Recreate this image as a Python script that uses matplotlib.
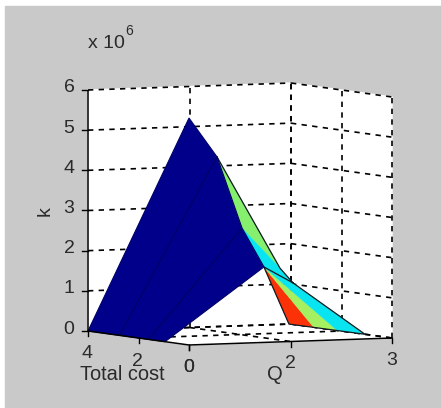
"""Surface seen from a fixed view, MATLAB style box, drawn with an own projection."""
import matplotlib
matplotlib.use("Agg")
import matplotlib.pyplot as plt
from matplotlib.patches import Polygon, Rectangle

plt.rcParams["font.family"] = ["Liberation Sans", "DejaVu Sans"]

# surface vertices (cost, Q, k in units of 1e6)
cost_b = [4.0, 2.75, 1.6, 0.95]
q_b = [0.0, 0.0, 0.0, 0.0]
k_b = [0.0, 0.0, 0.0, 0.0]

cost_p = [0.0, 1.0, 1.5, 1.0]
q_p = [0.0, 0.787, 1.343, 1.48]
k_p = [5.65, 4.55, 2.70, 1.77]

cost_o = [4.0, 3.92]
q_o = [2.837, 3.0]
k_o = [1.40, 1.03]

cost_r = [4.0, 3.11, 2.17, 1.07]
q_r = [2.97, 3.0, 3.0, 3.0]
k_r = [0.0, 0.0, 0.0, 0.0]

k_ticks = [0, 1, 2, 3, 4, 5, 6]
cost_ticks = [4, 2, 0]
q_ticks = [0, 1.5, 3]
q_labels = ["0", "2", "3"]

NAVY = "#00008a"
GREEN = "#86f06e"
LIME = "#a4f060"
CYAN = "#08e4f0"
RED = "#fb3208"


def proj(c, q, k):
    # fixed view read from the box corners
    x = 189 - 25.25 * c + 67.67 * q
    y = 345 - 3.5 * c - 2.33 * q - 40.17 * k
    return x, y


def vb(i):
    return proj(cost_b[i], q_b[i], k_b[i])


def vp(i):
    return proj(cost_p[i], q_p[i], k_p[i])


def vo(i):
    return proj(cost_o[i], q_o[i], k_o[i])


def vr(i):
    return proj(cost_r[i], q_r[i], k_r[i])


def line3d(ax, a, b, **kw):
    pa, pb = proj(*a), proj(*b)
    ax.plot([pa[0], pb[0]], [pa[1], pb[1]], color="black", solid_capstyle="butt", **kw)


fig = plt.figure(figsize=(4.41, 4.08), dpi=100, facecolor="white")
ax = fig.add_axes([0, 0, 1, 1])
ax.set_xlim(0, 441)
ax.set_ylim(408, 0)
ax.axis("off")

ax.add_patch(Rectangle((5, 6), 436, 402, color="#c9c9c9", zorder=0))

# box background
corners = [(4, 0, 6), (4, 3, 6), (0, 3, 6), (0, 3, 0), (0, 0, 0), (4, 0, 0)]
ax.add_patch(Polygon([proj(*p) for p in corners], color="white", zorder=1))

# wall and floor grid
dash = dict(lw=1.2, linestyle=(0, (3.2, 3.2)), zorder=2)
for k in k_ticks:
    line3d(ax, (4, 0, k), (4, 3, k), **dash)
    line3d(ax, (4, 3, k), (0, 3, k), **dash)
for q in q_ticks[1:]:
    line3d(ax, (4, q, 0), (4, q, 6), **dash)
    line3d(ax, (4, q, 0), (0, q, 0), **dash)
for c in cost_ticks[:-1]:
    line3d(ax, (c, 3, 0), (c, 3, 6), **dash)
    line3d(ax, (c, 0, 0), (c, 3, 0), **dash)
line3d(ax, (0, 3, 0), (0, 3, 6), **dash)

# surface cells
for i in range(3):
    cell = [vb(i), vb(i + 1), vp(i + 1), vp(i)]
    ax.add_patch(Polygon(cell, facecolor=NAVY, edgecolor="#000068", lw=0.8, zorder=3))
cells = [
    ([vp(3), vr(0), vr(1)], RED),
    ([vp(3), vr(1), vr(2)], LIME),
    ([vp(3), vr(2), vr(3), vo(1)], CYAN),
    ([vp(1), vp(2), vo(0)], GREEN),
    ([vp(2), vp(3), vo(1), vo(0)], CYAN),
]
for pts, col in cells:
    ax.add_patch(Polygon(pts, facecolor=col, edgecolor=col, lw=0.3, zorder=4))

# dark mesh edges of the coloured part
outline = [vp(1), vo(0), vo(1), vr(3), vr(0), vp(3), vo(1)]
ax.plot([p[0] for p in outline], [p[1] for p in outline], color="#101a20", lw=0.9, zorder=4.5)
inner = [vp(1), vp(2), vp(3)]
ax.plot([p[0] for p in inner], [p[1] for p in inner], color="#000068", lw=0.9, zorder=4.5)

# solid axis lines and ticks
solid = dict(lw=1.1, zorder=5)
line3d(ax, (4, 0, 0), (4, 0, 6), **solid)
line3d(ax, (4, 0, 0), (0, 0, 0), **solid)
line3d(ax, (0, 0, 0), (0, 3, 0), **solid)

fs = 14
tc = "#2a2a2a"
for k in k_ticks:
    x, y = proj(4, 0, k)
    ax.plot([x - 6, x], [y, y], color="black", lw=1.0, zorder=5)
    ax.text(x - 19, y - 2, str(k), fontsize=fs, color=tc, ha="center", va="center")
for c in cost_ticks:
    x, y = proj(c, 0, 0)
    ax.plot([x, x], [y, y + 5], color="black", lw=1.0, zorder=5)
    ax.text(x - 1 * (c > 0), y + 23, str(c), fontsize=fs, color=tc, ha="center", va="center")
for q, lab in zip(q_ticks, q_labels):
    x, y = proj(0, q, 0)
    ax.plot([x, x], [y, y + 5], color="black", lw=1.0, zorder=5)
    ax.text(x, y + 22, lab, fontsize=fs, color=tc, ha="center", va="center")

ax.text(122, 375, "Total cost", fontsize=fs + 0.4, color=tc, ha="center", va="center")
ax.text(275, 375, "Q", fontsize=fs + 0.5, color=tc, ha="center", va="center")
ax.text(45, 211, "k", fontsize=fs, color=tc, rotation=90, ha="center", va="center")
ax.text(106, 43, "x 10", fontsize=fs, color=tc, ha="center", va="center")
ax.text(129, 31, "6", fontsize=10, color=tc, ha="center", va="center")

fig.savefig("out.png", dpi=100)
